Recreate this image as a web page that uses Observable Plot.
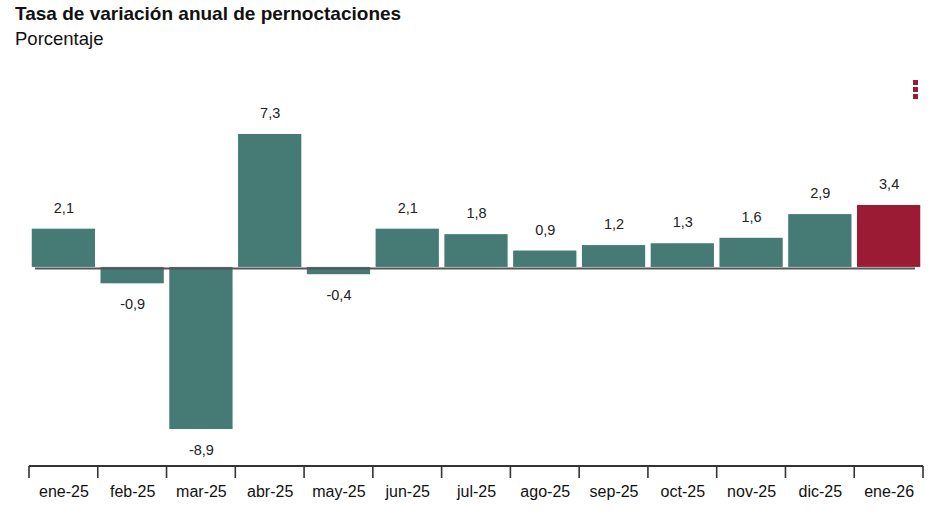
<!DOCTYPE html>
<html>
<head>
<meta charset="utf-8">
<script src="https://cdn.jsdelivr.net/npm/d3@7"></script>
<script src="https://cdn.jsdelivr.net/npm/@observablehq/plot@0.6"></script>
<style>
  body { margin: 0; background: #fff; font-family: "Liberation Sans", Arial, sans-serif; }
  #wrap { position: relative; width: 950px; height: 518px; overflow: hidden; }
  #title { position: absolute; left: 15px; top: 3px; font-size: 19px; font-weight: bold; color: #111; }
  #subtitle { position: absolute; left: 15px; top: 28px; font-size: 18.5px; color: #111; }
  #menu { position: absolute; left: 913px; top: 80px; width: 6px; z-index: 5; }
  #menu div { width: 5px; height: 5px; background: #9b1b34; margin-bottom: 2px; }
  #chart { position: absolute; left: 0; top: 55px; z-index: 1; }
</style>
</head>
<body>
<div id="wrap">
  <div id="title">Tasa de variación anual de pernoctaciones</div>
  <div id="subtitle">Porcentaje</div>
  <div id="chart"></div>
  <div id="menu"><div></div><div></div><div></div></div>
</div>
<script>
const months = ["ene-25","feb-25","mar-25","abr-25","may-25","jun-25","jul-25","ago-25","sep-25","oct-25","nov-25","dic-25","ene-26"];
const values = [2.1, -0.9, -8.9, 7.3, -0.4, 2.1, 1.8, 0.9, 1.2, 1.3, 1.6, 2.9, 3.4];
const highlighted = ["ene-26"];

const TEAL = "#467a74";
const RED = "#9b1b34";

const data = months.map((m, i) => ({month: m, value: values[i]}));
const fmt = v => v.toFixed(1).replace(".", ",");

const boundaryAxis = (index, scales, values, dims) => {
  const x = scales.x;
  const step = x.step();
  const pi = x.paddingInner();
  const yb = dims.height - dims.marginBottom;
  const g = d3.create("svg:g");
  const x0 = x(months[0]) - step * pi / 2;
  const x1 = x(months[months.length - 1]) + x.bandwidth() + step * pi / 2;
  g.append("line").attr("x1", x0).attr("x2", x1).attr("y1", yb).attr("y2", yb)
    .attr("stroke", "#333").attr("stroke-width", 2);
  const bounds = months.map(m => x(m) - step * pi / 2).concat([x1]);
  for (const bx of bounds) {
    g.append("line").attr("x1", bx).attr("x2", bx).attr("y1", yb).attr("y2", yb + 12)
      .attr("stroke", "#333").attr("stroke-width", 1.6);
  }
  return g.node();
};

const chart = Plot.plot({
  width: 950,
  height: 463,
  marginLeft: 29,
  marginRight: 27,
  marginTop: 48,
  marginBottom: 52,
  style: {fontFamily: "Liberation Sans, Arial, sans-serif", background: "white"},
  x: {domain: months, paddingInner: 0.08, paddingOuter: 0.04, round: false, label: null},
  y: {domain: [-10.93, 9], axis: null},
  marks: [
    Plot.barY(data, {x: "month", y: "value", fill: d => highlighted.includes(d.month) ? RED : TEAL}),
    Plot.ruleY([0], {stroke: "#555", strokeWidth: 2, insetLeft: 6, insetRight: 8, dy: 1}),
    Plot.text(data.filter(d => d.value >= 0), {
      x: "month", y: "value", text: d => fmt(d.value),
      dy: -21, fontSize: 14.5, fill: "#222"
    }),
    Plot.text(data.filter(d => d.value < 0), {
      x: "month", y: "value", text: d => fmt(d.value),
      dy: 21, fontSize: 14.5, fill: "#222"
    }),
    Plot.axisX({tickSize: 0, tickPadding: 19, fontSize: 16, fill: "#111", label: null}),
    boundaryAxis
  ]
});
document.getElementById("chart").appendChild(chart);
</script>
</body>
</html>
